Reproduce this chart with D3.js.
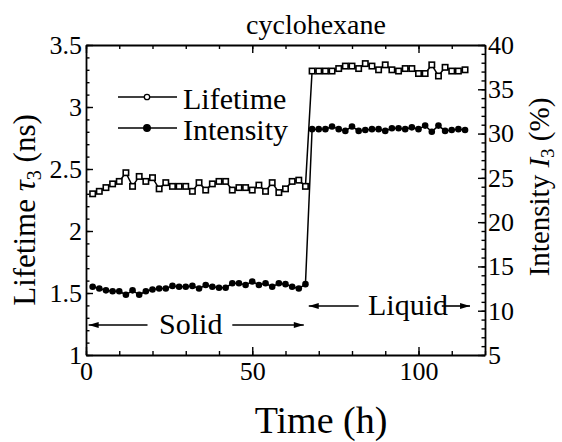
<!DOCTYPE html>
<html>
<head>
<meta charset="utf-8">
<script src="https://cdn.jsdelivr.net/npm/d3@7"></script>
<style>
  body { margin: 0; background: #fff; }
  svg text { font-family: "Liberation Serif", "DejaVu Serif", serif; fill: #000; }
</style>
</head>
<body>
<div id="chart"></div>
<script>
// Datos
const time = [2, 4, 6, 8, 10, 12, 14, 16, 18, 20, 22, 24, 26, 28, 30, 32, 34, 36, 38, 40,
  42, 44, 46, 48, 50, 52, 54, 56, 58, 60, 62, 64, 66,
  68, 70, 72, 74, 76, 78, 80, 82, 84, 86, 88, 90, 92, 94, 96, 98, 100, 102, 104, 106, 108, 110, 112, 114];

// Lifetime tau3 (ns), eje izquierdo
const lifetime = [2.30, 2.32, 2.35, 2.38, 2.40, 2.47, 2.36, 2.44, 2.40, 2.43, 2.34, 2.39, 2.36, 2.36, 2.36, 2.32,
  2.39, 2.33, 2.38, 2.40, 2.40, 2.33, 2.35, 2.35, 2.33, 2.37, 2.32, 2.39, 2.31, 2.34, 2.40, 2.41, 2.36,
  3.29, 3.29, 3.29, 3.29, 3.31, 3.33, 3.33, 3.31, 3.35, 3.33, 3.30, 3.34, 3.30, 3.29, 3.31, 3.31,
  3.27, 3.27, 3.34, 3.25, 3.32, 3.29, 3.29, 3.30];

// Intensity I3 (%), eje derecho
const intensity = [12.7, 12.5, 12.3, 12.2, 12.2, 11.8, 12.3, 11.8, 12.2, 12.4, 12.5, 12.5, 12.8, 12.7, 12.7, 12.8,
  12.5, 12.9, 12.7, 12.6, 12.6, 13.1, 13.1, 12.9, 13.3, 12.9, 13.1, 12.7, 13.1, 13.0, 12.7, 12.5, 13.0,
  30.5, 30.5, 30.5, 30.8, 30.5, 30.3, 30.8, 30.3, 30.4, 30.5, 30.5, 30.3, 30.6, 30.6, 30.5, 30.7,
  30.5, 30.9, 30.2, 30.9, 30.3, 30.4, 30.5, 30.4];

// Ticks
const xTicks = [0, 50, 100];
const xMinor = [0, 10, 20, 30, 40, 50, 60, 70, 80, 90, 100, 110, 120];
const yLeftTicks = [1, 1.5, 2, 2.5, 3, 3.5];
const yRightTicks = [5, 10, 15, 20, 25, 30, 35, 40];

const svgWidth = 562;
const svgHeight = 442;
const plot = { left: 86, right: 485, top: 45, bottom: 355 };

const svg = d3.select("#chart")
  .append("svg")
  .attr("width", svgWidth)
  .attr("height", svgHeight);

const x = d3.scaleLinear().domain([0, 120]).range([plot.left, plot.right]);
const yL = d3.scaleLinear().domain([1, 3.5]).range([plot.bottom, plot.top]);
const yR = d3.scaleLinear().domain([5, 40]).range([plot.bottom, plot.top]);

// marcas menores
const minorLeft = d3.range(10, 36).map(d => d / 10);
const minorRight = d3.range(5, 41);

function styleAxis(g, size) {
  g.selectAll("path").attr("stroke", "#000").attr("stroke-width", 1.8);
  g.selectAll("line").attr("stroke", "#000").attr("stroke-width", 1.4);
  g.selectAll("text").attr("font-size", size).attr("font-family", "Liberation Serif");
}

// Ejes - menores
svg.append("g").attr("transform", `translate(0,${plot.bottom})`)
  .call(d3.axisBottom(x).tickValues(xMinor).tickSize(-4).tickSizeOuter(0).tickFormat(""))
  .call(g => g.select(".domain").remove()).call(g => styleAxis(g, 0));
svg.append("g").attr("transform", `translate(0,${plot.top})`)
  .call(d3.axisTop(x).tickValues(xMinor).tickSize(-4).tickSizeOuter(0).tickFormat(""))
  .call(g => g.select(".domain").remove()).call(g => styleAxis(g, 0));
svg.append("g").attr("transform", `translate(${plot.left},0)`)
  .call(d3.axisLeft(yL).tickValues(minorLeft).tickSize(-3.5).tickSizeOuter(0).tickFormat(""))
  .call(g => g.select(".domain").remove()).call(g => styleAxis(g, 0));
svg.append("g").attr("transform", `translate(${plot.right},0)`)
  .call(d3.axisRight(yR).tickValues(minorRight).tickSize(-3.5).tickSizeOuter(0).tickFormat(""))
  .call(g => g.select(".domain").remove()).call(g => styleAxis(g, 0));

// Ejes - mayores
svg.append("g").attr("transform", `translate(0,${plot.bottom})`)
  .call(d3.axisBottom(x).tickValues(xTicks).tickSize(-8).tickSizeOuter(0).tickPadding(7).tickFormat(d => d))
  .call(g => styleAxis(g, 26));
svg.append("g").attr("transform", `translate(0,${plot.top})`)
  .call(d3.axisTop(x).tickValues(xTicks).tickSize(-8).tickSizeOuter(0).tickFormat(""))
  .call(g => styleAxis(g, 0));
svg.append("g").attr("transform", `translate(${plot.left},0)`)
  .call(d3.axisLeft(yL).tickValues(yLeftTicks).tickSize(-7).tickSizeOuter(0).tickPadding(4).tickFormat(d => d))
  .call(g => styleAxis(g, 26));
svg.append("g").attr("transform", `translate(${plot.right},0)`)
  .call(d3.axisRight(yR).tickValues(yRightTicks).tickSize(-7).tickSizeOuter(0).tickPadding(3).tickFormat(d => d))
  .call(g => styleAxis(g, 26));

// Series
const pts = time.map((t, i) => ({ t, life: lifetime[i], inten: intensity[i] }));

svg.append("path").datum(pts)
  .attr("fill", "none").attr("stroke", "#000").attr("stroke-width", 1.5)
  .attr("d", d3.line().x(d => x(d.t)).y(d => yL(d.life)));
svg.append("path").datum(pts)
  .attr("fill", "none").attr("stroke", "#000").attr("stroke-width", 1.5)
  .attr("d", d3.line().x(d => x(d.t)).y(d => yR(d.inten)));

svg.selectAll(".life").data(pts).enter().append("rect")
  .attr("class", "life")
  .attr("x", d => x(d.t) - 2.7).attr("y", d => yL(d.life) - 2.7)
  .attr("width", 5.4).attr("height", 5.4)
  .attr("fill", "#fff").attr("stroke", "#000").attr("stroke-width", 1.6);

svg.selectAll(".inten").data(pts).enter().append("circle")
  .attr("class", "inten")
  .attr("cx", d => x(d.t)).attr("cy", d => yR(d.inten)).attr("r", 3.3)
  .attr("fill", "#000");

// Leyenda
const legend = svg.append("g");
[["Lifetime", 97, 109, false], ["Intensity", 128, 140, true]].forEach(([label, ly, ty, filled]) => {
  legend.append("line").attr("x1", 118).attr("x2", 177).attr("y1", ly).attr("y2", ly)
    .attr("stroke", "#000").attr("stroke-width", 1.5);
  legend.append("circle").attr("cx", 147).attr("cy", ly).attr("r", filled ? 3.3 : 2.7)
    .attr("fill", filled ? "#000" : "#fff").attr("stroke", "#000").attr("stroke-width", 1.3);
  legend.append("text").attr("x", 183).attr("y", ty).attr("font-size", 30).text(label);
});

// Flechas Solid / Liquid
const defs = svg.append("defs");
defs.append("marker").attr("id", "arrow").attr("viewBox", "0 0 10 6")
  .attr("refX", 10).attr("refY", 3).attr("markerWidth", 11).attr("markerHeight", 6)
  .attr("markerUnits", "userSpaceOnUse").attr("orient", "auto")
  .append("path").attr("d", "M0,0L10,3L0,6Z").attr("fill", "#000");

function arrow(x1, x2, yy) {
  svg.append("line").attr("x1", x1).attr("x2", x2).attr("y1", yy).attr("y2", yy)
    .attr("stroke", "#000").attr("stroke-width", 1.6).attr("marker-end", "url(#arrow)");
}
arrow(x(18.5), x(0.8), 325);
arrow(x(44), x(65.5), 325);
svg.append("text").attr("x", x(31.5)).attr("y", 334).attr("text-anchor", "middle")
  .attr("font-size", 30).text("Solid");

arrow(x(82), x(67), 306);
arrow(x(107), x(115.5), 306);
svg.append("text").attr("x", 368).attr("y", 315).attr("font-size", 30).text("Liquid");

// Títulos
svg.append("text").attr("x", 316).attr("y", 34).attr("text-anchor", "middle")
  .attr("font-size", 28).text("cyclohexane");

svg.append("text").attr("x", 321).attr("y", 433).attr("text-anchor", "middle")
  .attr("font-size", 38).text("Time (h)");

const yLabel = svg.append("text")
  .attr("transform", "translate(35,210) rotate(-90)")
  .attr("text-anchor", "middle").attr("font-size", 31);
yLabel.append("tspan").text("Lifetime ");
yLabel.append("tspan").attr("font-style", "italic").text("τ");
yLabel.append("tspan").attr("font-size", 20).attr("dy", 6).text("3");
yLabel.append("tspan").attr("dy", -6).text(" (ns)");

const yRLabel = svg.append("text")
  .attr("transform", "translate(549,187) rotate(-90)")
  .attr("text-anchor", "middle").attr("font-size", 29);
yRLabel.append("tspan").text("Intensity ");
yRLabel.append("tspan").attr("font-style", "italic").text("I");
yRLabel.append("tspan").attr("font-size", 19).attr("dy", 5).text("3");
yRLabel.append("tspan").attr("dy", -5).text(" (%)");
</script>
</body>
</html>
